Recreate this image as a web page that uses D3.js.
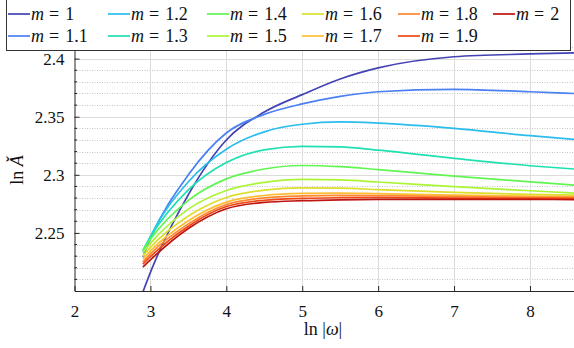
<!DOCTYPE html>
<html>
<head>
<meta charset="utf-8">
<script src="https://cdn.jsdelivr.net/npm/d3@7"></script>
<style>
  html, body { margin: 0; padding: 0; background: #fff; }
  svg text { font-family: "Liberation Serif", "Times New Roman", Times, "DejaVu Serif", "Noto Serif", serif !important; }
</style>
</head>
<body>
<div id="chart"></div>
<script>
(function () {
  "use strict";

  // sample positions along ln|w|
  const lnOmega = [2.9, 3, 3.5, 4, 4.5, 5, 5.5, 6, 7, 8, 8.58];

  const mLabels = ["1", "1.1", "1.2", "1.3", "1.4", "1.5", "1.6", "1.7", "1.8", "1.9", "2"];

  const lnA_m10 = [2.199, 2.216, 2.283, 2.330, 2.354, 2.369, 2.3825, 2.392, 2.4016, 2.404, 2.405];
  const lnA_m11 = [2.229, 2.245, 2.300, 2.336, 2.352, 2.361, 2.3675, 2.3715, 2.3736, 2.3715, 2.370];
  const lnA_m12 = [2.233, 2.247, 2.294, 2.322, 2.337, 2.3435, 2.3455, 2.3445, 2.340, 2.3337, 2.3305];
  const lnA_m13 = [2.235, 2.2465, 2.287, 2.3105, 2.3215, 2.3245, 2.324, 2.3212, 2.3142, 2.3078, 2.305];
  const lnA_m14 = [2.235, 2.2445, 2.278, 2.2965, 2.305, 2.308, 2.307, 2.3045, 2.2988, 2.294, 2.2912];
  const lnA_m15 = [2.233, 2.241, 2.2705, 2.2865, 2.2935, 2.296, 2.2956, 2.2938, 2.2898, 2.2863, 2.2843];
  const lnA_m16 = [2.230, 2.2375, 2.2645, 2.2805, 2.2868, 2.2888, 2.2886, 2.2872, 2.2848, 2.2832, 2.2826];
  const lnA_m17 = [2.2275, 2.2345, 2.2605, 2.2765, 2.2822, 2.284, 2.2843, 2.2838, 2.2826, 2.2817, 2.2813];
  const lnA_m18 = [2.225, 2.232, 2.2578, 2.2745, 2.2801, 2.2818, 2.2823, 2.2822, 2.2813, 2.2807, 2.2805];
  const lnA_m19 = [2.223, 2.2295, 2.2558, 2.2727, 2.2781, 2.2797, 2.2803, 2.2805, 2.280, 2.2797, 2.2796];
  const lnA_m20 = [2.2205, 2.2268, 2.2538, 2.2708, 2.2762, 2.2777, 2.2785, 2.2788, 2.2789, 2.2788, 2.2787];

  const seriesValues = [lnA_m10, lnA_m11, lnA_m12, lnA_m13, lnA_m14, lnA_m15,
    lnA_m16, lnA_m17, lnA_m18, lnA_m19, lnA_m20];

  const seriesColors = ["#4343b4", "#4a80f2", "#2bbcee", "#1fe0b0", "#62f552", "#aaf535",
    "#dcdf2c", "#ffbd35", "#ff8630", "#ef4713", "#bd1510"];

  const xTicks = [2, 3, 4, 5, 6, 7, 8];
  const yTicks = [2.25, 2.3, 2.35, 2.4];
  const yTickLabels = ["2.25", "2.3", "2.35", "2.4"];

  const width = 574;
  const height = 348;
  const plot = { left: 74.5, right: 574, top: 47, bottom: 291 };

  const x = d3.scaleLinear().domain([2, 8.58]).range([plot.left, plot.right]);
  const y = d3.scaleLinear().domain([2.2, 2.41]).range([plot.bottom, plot.top]);

  const svg = d3.select("#chart").append("svg")
    .attr("width", width).attr("height", height)
    .attr("viewBox", `0 0 ${width} ${height}`);

  svg.append("defs").append("clipPath").attr("id", "plot-clip")
    .append("rect")
    .attr("x", plot.left).attr("y", plot.top)
    .attr("width", plot.right - plot.left).attr("height", plot.bottom - plot.top);

  // grid
  const grid = svg.append("g").attr("class", "grid");
  const minorY = d3.range(0, 22).map((i) => +(2.2 + i * 0.01).toFixed(2))
    .filter((v) => yTicks.indexOf(v) < 0 && v > 2.2);

  grid.selectAll("line.minor").data(minorY).join("line")
    .attr("class", "minor")
    .attr("x1", plot.left).attr("x2", plot.right)
    .attr("y1", (d) => Math.round(y(d)) + 0.5).attr("y2", (d) => Math.round(y(d)) + 0.5)
    .attr("stroke", "#c4c4c4").attr("stroke-width", 1).attr("stroke-dasharray", "1,1.5");

  grid.selectAll("line.majorY").data(yTicks).join("line")
    .attr("class", "majorY")
    .attr("x1", plot.left).attr("x2", plot.right)
    .attr("y1", (d) => Math.round(y(d)) + 0.5).attr("y2", (d) => Math.round(y(d)) + 0.5)
    .attr("stroke", "#dcdcdc").attr("stroke-width", 1);

  grid.selectAll("line.majorX").data(xTicks.slice(1)).join("line")
    .attr("class", "majorX")
    .attr("x1", (d) => Math.round(x(d)) + 0.5).attr("x2", (d) => Math.round(x(d)) + 0.5)
    .attr("y1", plot.top).attr("y2", plot.bottom)
    .attr("stroke", "#dcdcdc").attr("stroke-width", 1);

  // curves
  const line = d3.line()
    .x((d, i) => x(lnOmega[i]))
    .y((d) => y(d))
    .curve(d3.curveMonotoneX);

  svg.append("g").attr("clip-path", "url(#plot-clip)")
    .selectAll("path").data(seriesValues).join("path")
    .attr("d", line)
    .attr("fill", "none")
    .attr("stroke", (d, i) => seriesColors[i])
    .attr("stroke-width", 1.7);

  // axes (ticks inside)
  const axisColor = "#262626";
  const xAxis = svg.append("g")
    .attr("transform", `translate(0,${plot.bottom})`)
    .call(d3.axisBottom(x).tickValues(xTicks).tickFormat(d3.format("d"))
      .tickSizeInner(-5).tickSizeOuter(0).tickPadding(14));
  xAxis.attr("font-family", null);
  xAxis.select(".domain").attr("stroke", axisColor);
  xAxis.selectAll(".tick line").attr("stroke", axisColor);
  xAxis.selectAll(".tick text").attr("fill", "#111").attr("font-size", 17);

  const yAxis = svg.append("g")
    .attr("transform", `translate(${plot.left},0)`)
    .call(d3.axisLeft(y).tickValues(yTicks).tickFormat((d, i) => yTickLabels[i])
      .tickSizeInner(-5).tickSizeOuter(0).tickPadding(10));
  yAxis.attr("font-family", null);
  yAxis.select(".domain").attr("stroke", axisColor);
  yAxis.selectAll(".tick line").attr("stroke", axisColor);
  yAxis.selectAll(".tick text").attr("fill", "#111").attr("font-size", 17);

  yAxis.selectAll("line.minor-tick").data(minorY).join("line")
    .attr("class", "minor-tick")
    .attr("x1", 0).attr("x2", 2.5)
    .attr("y1", (d) => y(d)).attr("y2", (d) => y(d))
    .attr("stroke", axisColor);

  // axis titles
  const xTitle = svg.append("text")
    .attr("x", 323).attr("y", 335)
    .attr("text-anchor", "middle").attr("font-size", 18).attr("fill", "#111");
  xTitle.append("tspan").text("ln |");
  xTitle.append("tspan").attr("font-style", "italic").text("ω");
  xTitle.append("tspan").text("|");

  const yTitle = svg.append("text")
    .attr("transform", "translate(23,170) rotate(-90)")
    .attr("text-anchor", "middle").attr("font-size", 18).attr("fill", "#111");
  yTitle.append("tspan").text("ln ");
  yTitle.append("tspan").attr("font-style", "italic").text("Ǎ");

  // legend
  const legendCols = [8, 108, 207, 302, 398, 493];
  const legendRows = [14, 36];
  const legend = svg.append("g");
  legend.append("rect")
    .attr("x", 6.5).attr("y", -0.5).attr("width", 564).attr("height", 51)
    .attr("fill", "#fff").attr("stroke", "#333").attr("stroke-width", 1);

  const items = legend.selectAll("g.item").data(mLabels).join("g")
    .attr("class", "item")
    .attr("transform", (d, i) =>
      `translate(${legendCols[Math.floor(i / 2)]},${legendRows[i % 2]})`);

  items.append("line")
    .attr("x1", 0).attr("x2", 22).attr("y1", 0).attr("y2", 0)
    .attr("stroke", (d, i) => seriesColors[i]).attr("stroke-width", 1.7);

  const labels = items.append("text")
    .attr("x", 23).attr("y", 6).attr("font-size", 18).attr("fill", "#111");
  labels.append("tspan").attr("font-style", "italic").text("m");
  labels.append("tspan").attr("dx", 5).text("=");
  labels.append("tspan").attr("dx", 6).text((d) => d);
})();
</script>
</body>
</html>
